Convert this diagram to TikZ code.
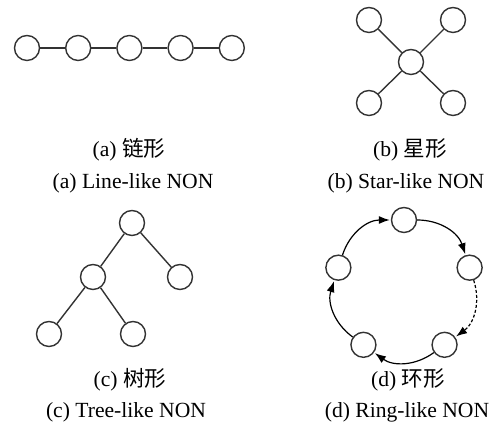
\documentclass[tikz,border=0pt]{standalone}
\usepackage{fontspec}
\setmainfont{Liberation Serif}
\newfontfamily\cjk{Noto Sans CJK SC}
\usetikzlibrary{arrows.meta, positioning}

\begin{document}
\begin{tikzpicture}[
  x=0.5pt, y=0.5pt,
  node distance=12.4pt,
  dot/.style={draw=black!80, circle, minimum size=12.5pt, inner sep=0pt, line width=0.7pt, fill=white},
  link/.style={draw=black!80, line width=0.7pt},
  ringarrow/.style={-{Latex[length=5.5pt, width=4pt]}, line width=0.6pt, shorten >=0.5pt},
  caption/.style={font=\fontsize{10.8}{13}\selectfont, inner sep=0pt}
]
\useasboundingbox (0,0) rectangle (499,427);

% (a) line
\node[dot] (l1) at (27,379) {};
\node[dot, right=of l1] (l2) {};
\node[dot, right=of l2] (l3) {};
\node[dot, right=of l3] (l4) {};
\node[dot, right=of l4] (l5) {};
\draw[link] (l1) -- (l2) (l2) -- (l3) (l3) -- (l4) (l4) -- (l5);

% (b) star
\node[dot] (hub) at (411,365) {};
\node[dot] (s1) at (369,407) {};
\node[dot] (s2) at (453,407) {};
\node[dot] (s3) at (369,324) {};
\node[dot] (s4) at (453,324) {};
\foreach \s in {s1,s2,s3,s4}
  \draw[link] (hub) -- (\s);

% (c) tree
\node[dot] (root) at (132,204) {};
\node[dot] (mid) at (93,150) {};
\node[dot] (leafr) at (180,150) {};
\node[dot] (leafa) at (49,93) {};
\node[dot] (leafb) at (133,93) {};
\draw[link] (root) -- (mid) (root) -- (leafr);
\draw[link] (mid) -- (leafa) (mid) -- (leafb);

% (d) ring
\foreach \n/\a in {1/90, 2/18, 3/-54, 4/-126, 5/162}
  \node[dot] (r\n) at ([shift={(\a:69)}]404,138) {};
\draw[ringarrow] (r1) to[bend left=36] (r2);
\draw[ringarrow, dash pattern=on 1.5pt off 1pt] (r2) to[bend left=36] (r3);
\draw[ringarrow] (r3) to[bend left=36] (r4);
\draw[ringarrow] (r4) to[bend left=36] (r5);
\draw[ringarrow] (r5) to[bend left=36] (r1);

% captions
\node[caption] (capa) at (129,277) {(a) {\cjk 链形}};
\node[caption] (capae) at (133,244) {(a) Line-like NON};
\node[caption] (capb) at (410,277) {(b) {\cjk 星形}};
\node[caption] (capbe) at (406,244) {(b) Star-like NON};
\node[caption] (capc) at (130,47) {(c) {\cjk 树形}};
\node[caption] (capce) at (126,15) {(c) Tree-like NON};
\node[caption] (capd) at (408,47) {(d) {\cjk 环形}};
\node[caption] (capde) at (407,15) {(d) Ring-like NON};
\end{tikzpicture}
\end{document}
